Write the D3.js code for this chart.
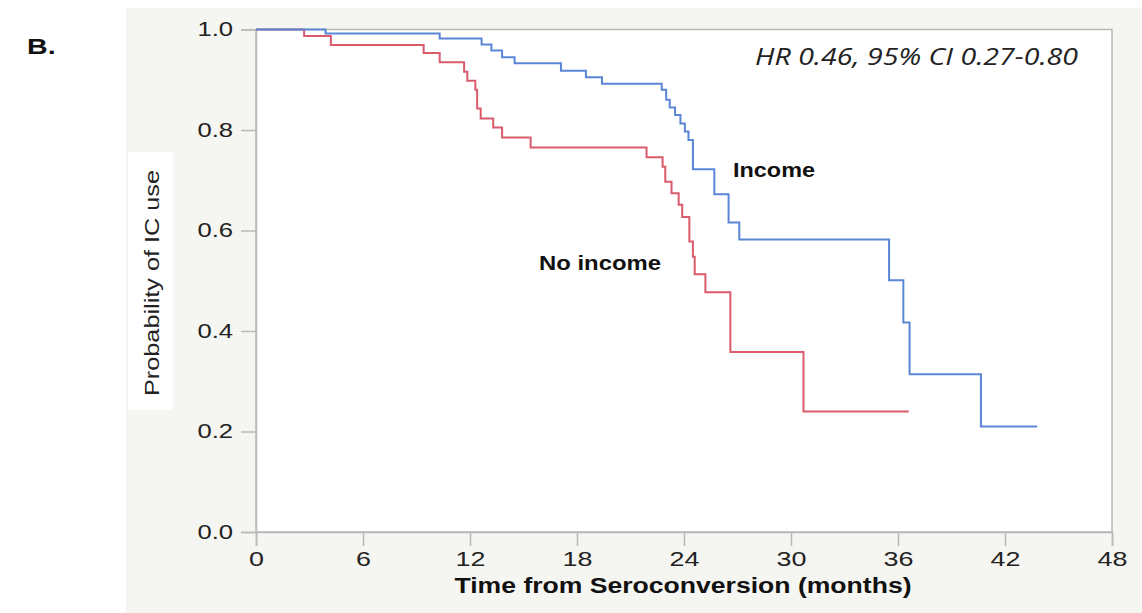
<!DOCTYPE html>
<html><head><meta charset="utf-8">
<script src="https://cdn.jsdelivr.net/npm/d3@7"></script>
<style>html,body{margin:0;padding:0;background:#fff;}svg{display:block;}</style>
</head><body><svg id="chart" width="1142" height="613"></svg>
<script>
// Kaplan-Meier step data: [time (months), survival after step]
const incomeTimes = [0, 3.9, 10.3, 12.65, 13.2, 13.8, 14.5, 17.1, 18.5, 19.4, 22.75, 23.0, 23.2, 23.5, 23.8, 24.05, 24.25, 24.5, 25.7, 26.5, 27.1, 35.5, 36.3, 36.65, 40.65, 43.8];
const incomeSurv  = [1.0, 0.992, 0.982, 0.970, 0.958, 0.945, 0.933, 0.918, 0.905, 0.892, 0.880, 0.860, 0.845, 0.830, 0.813, 0.797, 0.780, 0.722, 0.672, 0.616, 0.582, 0.501, 0.417, 0.314, 0.210, 0.210];
const noIncomeTimes = [0, 2.7, 4.2, 9.4, 10.3, 11.67, 11.85, 12.3, 12.4, 12.6, 13.3, 13.8, 15.4, 21.9, 22.8, 22.95, 23.3, 23.7, 23.9, 24.3, 24.5, 24.6, 25.2, 26.6, 30.7, 36.6];
const noIncomeSurv  = [1.0, 0.987, 0.969, 0.953, 0.935, 0.916, 0.898, 0.880, 0.843, 0.823, 0.805, 0.785, 0.765, 0.746, 0.727, 0.697, 0.674, 0.651, 0.627, 0.578, 0.548, 0.513, 0.477, 0.358, 0.240, 0.240];
const xTicks = [0, 6, 12, 18, 24, 30, 36, 42, 48];
const yTicks = [0.0, 0.2, 0.4, 0.6, 0.8, 1.0];
const seriesNames = ["Income", "No income"];
const annotation = "HR 0.46, 95% CI 0.27-0.80";
const xTitle = "Time from Seroconversion (months)";
const yTitle = "Probability of IC use";
const panelLabel = "B.";

const svg = d3.select("#chart");
const L = 256, R = 1112, T = 29.5, B = 532;
const x = d3.scaleLinear().domain([0, 48]).range([L, R]);
const y = d3.scaleLinear().domain([0, 1]).range([B, T]);
const axisColor = "#b9b9b9";
const SANS = "Liberation Sans, Arial, sans-serif";

// widen text along its baseline
function widen(sel, k) {
  sel.each(function() {
    const w = this.getComputedTextLength();
    d3.select(this).attr("textLength", w * k).attr("lengthAdjust", "spacingAndGlyphs");
  });
}
function fitTo(sel, len) { sel.attr("textLength", len).attr("lengthAdjust", "spacingAndGlyphs"); }

svg.append("rect").attr("x", 0).attr("y", 0).attr("width", 1142).attr("height", 613).attr("fill", "#fff");
svg.append("rect").attr("x", 126).attr("y", 8).attr("width", 1016).attr("height", 605).attr("fill", "#f5f5f1");
svg.append("rect").attr("x", L).attr("y", T).attr("width", R - L).attr("height", B - T)
  .attr("fill", "#fff").attr("stroke", axisColor).attr("stroke-width", 1.5);

const bl = svg.append("text").attr("x", 27).attr("y", 54).attr("font-family", SANS)
  .attr("font-weight", "bold").attr("font-size", 22).attr("fill", "#111").text(panelLabel);
widen(bl, 1.3);

// axes
const xAxis = svg.append("g").attr("transform", `translate(0,${B})`)
  .call(d3.axisBottom(x).tickValues(xTicks).tickSize(14).tickPadding(5).tickFormat(d3.format("d")));
const yAxis = svg.append("g").attr("transform", `translate(${L},0)`)
  .call(d3.axisLeft(y).tickValues(yTicks).tickSize(15).tickPadding(8).tickFormat(d3.format(".1f")));
[xAxis, yAxis].forEach(g => {
  g.select(".domain").attr("stroke", axisColor).attr("stroke-width", 1.5);
  g.selectAll(".tick line").attr("stroke", axisColor).attr("stroke-width", 1.5);
  g.selectAll(".tick text").attr("font-family", SANS).attr("font-size", 20).attr("fill", "#222");
});
xAxis.selectAll(".tick text").attr("font-size", 21);
widen(xAxis.selectAll(".tick text"), 1.28);
widen(yAxis.selectAll(".tick text"), 1.28);

// curves
const line = d3.line().x(d => x(d[0])).y(d => y(d[1])).curve(d3.curveStepAfter);
const mk = (ts, ss) => ts.map((t, i) => [t, ss[i]]);
svg.append("path").datum(mk(noIncomeTimes, noIncomeSurv)).attr("d", line)
  .attr("fill", "none").attr("stroke", "#d95b6c").attr("stroke-width", 2);
svg.append("path").datum(mk(incomeTimes, incomeSurv)).attr("d", line)
  .attr("fill", "none").attr("stroke", "#5b86d6").attr("stroke-width", 2);

// labels
fitTo(svg.append("text").attr("x", 733).attr("y", 177).attr("font-family", SANS)
  .attr("font-weight", "bold").attr("font-size", 20).attr("fill", "#111").text(seriesNames[0]), 82);
fitTo(svg.append("text").attr("x", 539).attr("y", 270).attr("font-family", SANS)
  .attr("font-weight", "bold").attr("font-size", 20).attr("fill", "#111").text(seriesNames[1]), 122);
fitTo(svg.append("text").attr("x", 755).attr("y", 65).attr("font-family", "Open Sans, sans-serif")
  .attr("font-style", "italic").attr("font-size", 23).attr("fill", "#222").text(annotation), 323);

fitTo(svg.append("text").attr("x", 683).attr("y", 593).attr("text-anchor", "middle")
  .attr("font-family", SANS).attr("font-weight", "bold")
  .attr("font-size", 22).attr("fill", "#111").text(xTitle), 457);

svg.append("rect").attr("x", 128).attr("y", 152).attr("width", 45).attr("height", 258).attr("rx", 3).attr("fill", "#fff");
fitTo(svg.append("text").attr("transform", "translate(159,283) rotate(-90)").attr("text-anchor", "middle")
  .attr("font-family", SANS).attr("font-size", 21).attr("fill", "#222").text(yTitle), 226);
</script></body></html>
